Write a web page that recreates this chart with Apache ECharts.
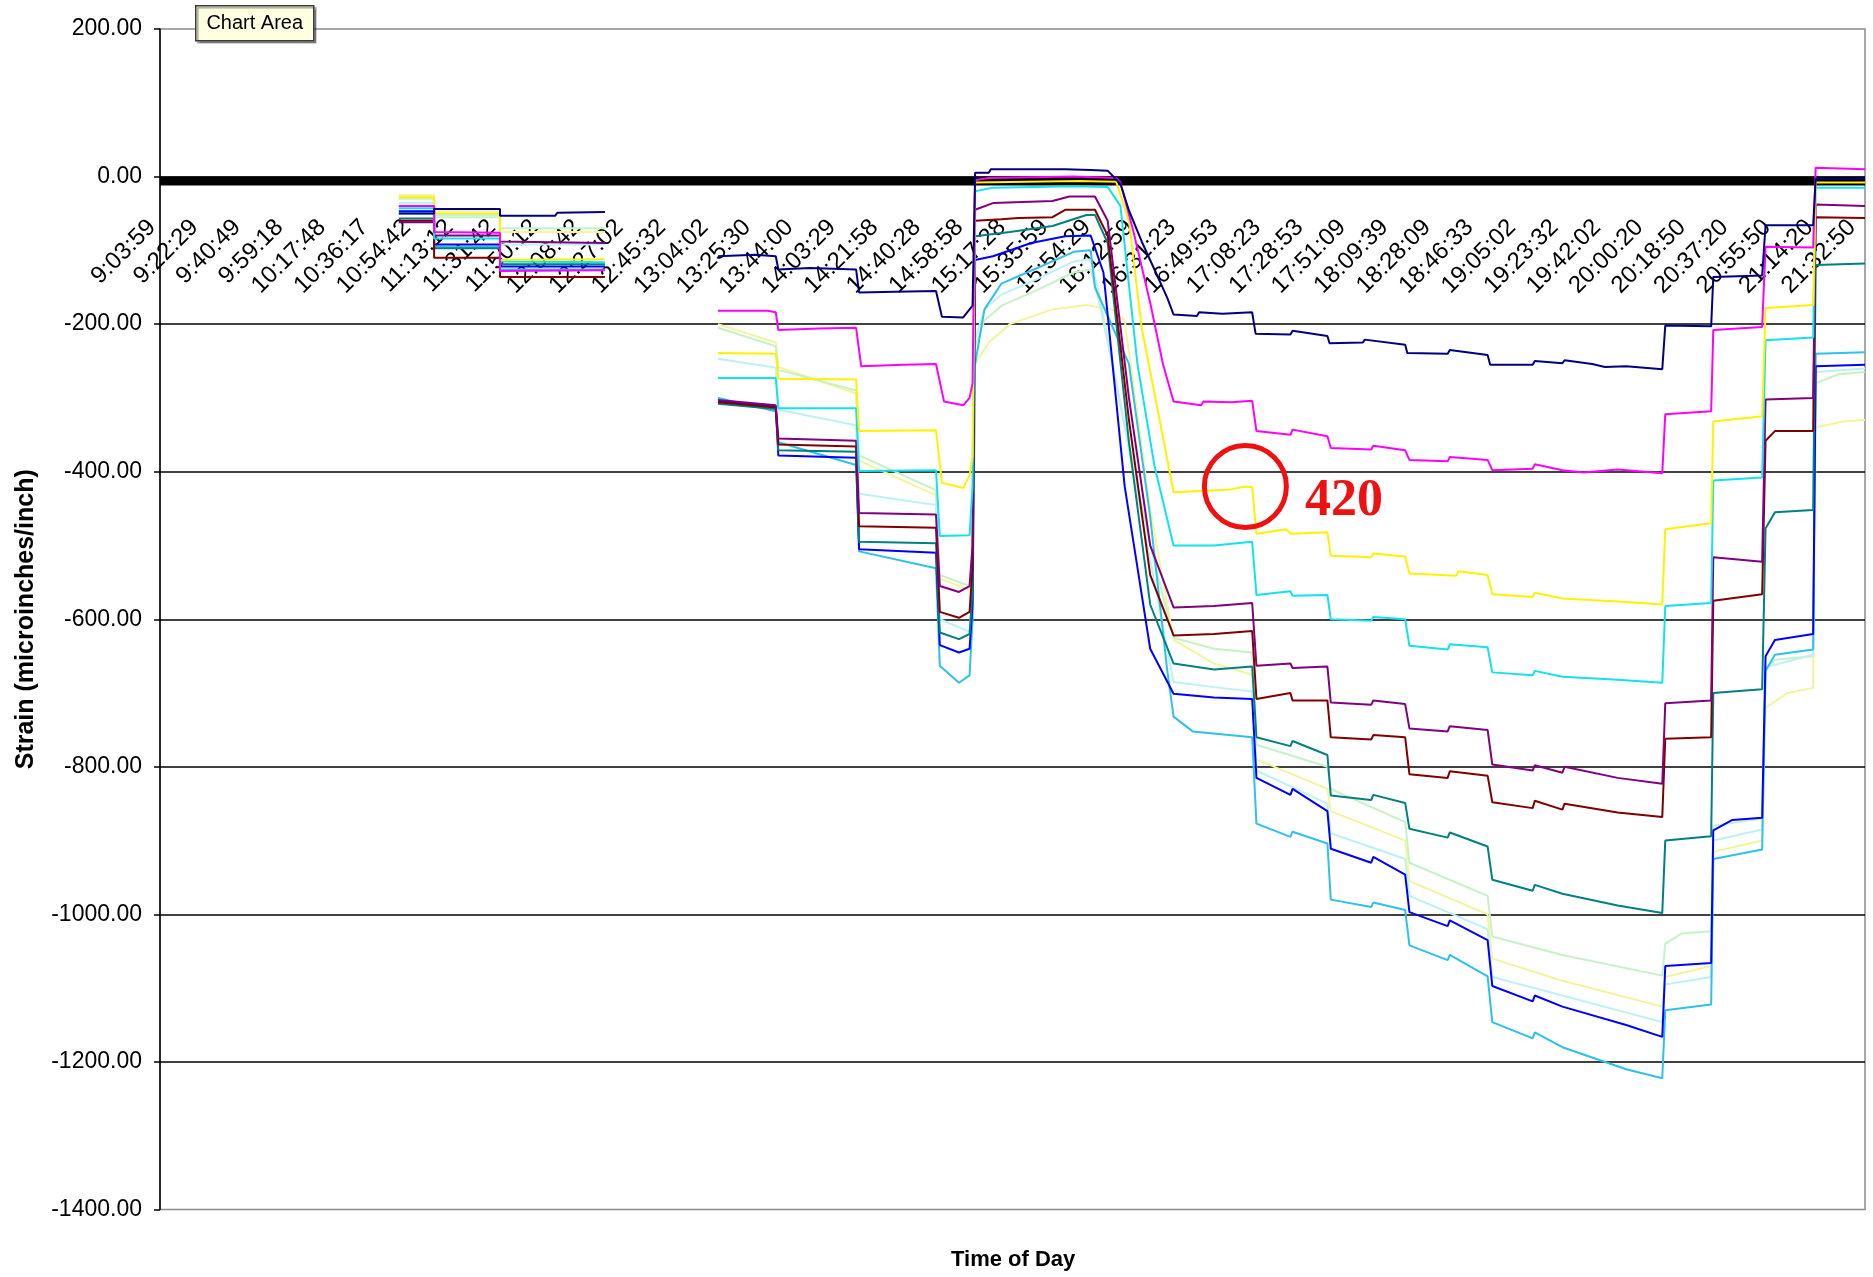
<!DOCTYPE html>
<html>
<head>
<meta charset="utf-8">
<title>Strain vs Time of Day</title>
<script src="https://cdn.jsdelivr.net/npm/echarts@6/dist/echarts.min.js"></script>
<style>
  html, body { margin: 0; padding: 0; background: #ffffff; }
  #chart { width: 1873px; height: 1277px; }
</style>
</head>
<body>
<div id="chart"></div>
<script>
// Category labels along the time axis (one label every logging block)
const timeLabels = [
  '9:03:59', '9:22:29', '9:40:49', '9:59:18', '10:17:48', '10:36:17', '10:54:42',
  '11:13:12', '11:31:42', '11:50:12', '12:08:42', '12:27:02', '12:45:32', '13:04:02',
  '13:25:30', '13:44:00', '14:03:29', '14:21:58', '14:40:28', '14:58:58', '15:17:28',
  '15:35:59', '15:54:29', '16:12:59', '16:31:23', '16:49:53', '17:08:23', '17:28:53',
  '17:51:09', '18:09:39', '18:28:09', '18:46:33', '19:05:02', '19:23:32', '19:42:02',
  '20:00:20', '20:18:50', '20:37:20', '20:55:50', '21:14:20', '21:32:50'
];
const xEnd = 40.12;
const yTicks = { min: -1400, max: 200, step: 200 };

// Strain readings, [position on time axis (label blocks), microstrain]
const gaugeZero = [[0, -6], [40.12, -6]];

const gaugeNavy = [
  [5.62, -50], [6.45, -50], [6.45, -44], [8.0, -44], [8.0, -53], [9.3, -53], [9.35, -49], [10.47, -48], [10.47, null],
  [13.13, -108], [14.0, -106], [14.49, -108], [14.55, -126], [15.3, -124], [16.38, -126], [16.45, -157], [17.3, -156], [18.26, -155],
  [18.4, -190], [18.9, -191], [19.05, -180], [19.12, -175],
  [19.18, 5], [19.5, 5], [19.55, 10], [21.3, 10], [21.9, 9], [22.3, 8],
  [22.6, -10], [22.8, -46], [23.1, -88], [23.4, -126], [23.7, -164], [23.85, -187],
  [24.4, -189], [24.45, -184], [25.0, -186], [25.7, -184], [25.78, -213], [26.6, -214], [26.65, -209], [27.47, -216],
  [27.52, -226], [28.3, -225], [28.35, -221], [29.3, -228],
  [29.35, -239], [30.3, -240], [30.35, -235], [31.24, -242], [31.3, -255], [32.3, -255], [32.35, -250], [33.0, -253], [33.05, -249],
  [33.7, -254], [34.0, -258], [34.5, -257], [35.35, -261],
  [35.42, -202], [36.5, -203], [36.55, -136], [37.7, -134], [37.78, -66], [38.9, -66], [38.96, -3], [40.12, -3]
];

const gaugeMagenta = [
  [5.62, -40], [6.45, -40], [6.45, -75], [8.0, -76], [8.0, -128], [10.47, -127], [10.47, null],
  [13.13, -182], [14.3, -182], [14.49, -184], [14.55, -208], [15.5, -206], [16.38, -205], [16.5, -257], [17.5, -255], [18.26, -254],
  [18.45, -305], [18.9, -310], [19.05, -300], [19.12, -280],
  [19.18, -5], [19.5, -2], [21.5, 0], [22.5, -2],
  [22.6, -8], [22.9, -73], [23.3, -171], [23.6, -254], [23.85, -305],
  [24.5, -310], [24.55, -305], [25.2, -306], [25.7, -304], [25.8, -345], [26.6, -350], [26.65, -343], [27.47, -352],
  [27.55, -368], [28.5, -370], [28.55, -365], [29.3, -371], [29.4, -384], [30.3, -386], [30.35, -380], [31.24, -384],
  [31.35, -398], [32.3, -396], [32.35, -390], [33.0, -398], [33.5, -401], [34.3, -397], [35.35, -402],
  [35.42, -322], [36.5, -318], [36.55, -208], [37.7, -204], [37.78, -95], [38.9, -96], [38.96, 12], [40.12, 10]
];

// Reading called out on the chart
const noteYellow = [25.54, -420];

const gaugeYellow = [
  [5.62, -28], [6.45, -28], [6.45, -50], [8.0, -50], [8.0, -113], [10.47, -112], [10.47, null],
  [13.13, -239], [14.49, -240], [14.55, -274], [16.38, -275], [16.45, -345], [18.26, -344],
  [18.4, -415], [18.9, -422], [19.05, -405], [19.12, -380],
  [19.18, -8], [21.6, -6], [22.5, -7],
  [22.8, -60], [23.1, -205], [23.5, -323], [23.85, -428],
  [24.6, -426], [25.2, -424], noteYellow, [25.7, -421], [25.8, -484], [26.5, -478], [26.6, -484], [27.47, -482],
  [27.55, -514], [28.5, -516], [28.55, -511], [29.3, -515], [29.4, -538], [30.5, -541], [30.55, -535], [31.24, -540],
  [31.35, -566], [32.3, -570], [32.35, -564], [33.0, -572], [34.3, -576], [35.35, -580],
  [35.42, -478], [36.5, -470], [36.55, -332], [37.7, -325], [37.78, -178], [38.9, -174], [38.96, -8], [40.12, -8]
];

const gaugeCyan = [
  [5.62, -43], [6.45, -43], [6.45, -84], [8.0, -84], [8.0, -115], [10.47, -116], [10.47, null],
  [13.13, -273], [14.49, -273], [14.55, -314], [16.38, -314], [16.45, -399], [18.26, -398],
  [18.35, -487], [19.05, -486], [19.12, -420],
  [19.18, -20], [19.6, -15], [21.5, -13], [22.3, -14],
  [22.6, -40], [23.0, -254], [23.4, -392], [23.85, -500],
  [24.8, -500], [25.7, -495], [25.8, -567], [26.6, -562], [26.65, -568], [27.47, -567],
  [27.55, -600], [28.5, -602], [28.55, -597], [29.3, -600], [29.4, -636], [30.3, -641], [30.35, -634], [31.24, -638],
  [31.35, -672], [32.3, -676], [32.35, -670], [33.0, -678], [34.3, -682], [35.35, -686],
  [35.42, -582], [36.5, -578], [36.55, -412], [37.7, -408], [37.78, -222], [38.9, -218], [38.96, -15], [40.12, -15]
];

const gaugePurple = [
  [5.62, -62], [6.45, -62], [6.45, -80], [8.0, -80], [8.0, -88], [10.47, -90], [10.47, null],
  [13.13, -303], [14.49, -310], [14.55, -355], [16.38, -358], [16.45, -456], [18.26, -458],
  [18.35, -555], [18.8, -563], [19.05, -555], [19.12, -500],
  [19.18, -45], [19.6, -36], [21.0, -33], [21.4, -27], [22.0, -27],
  [22.3, -60], [22.8, -300], [23.3, -500], [23.85, -584],
  [24.8, -582], [25.7, -578], [25.8, -663], [26.6, -660], [26.65, -666], [27.47, -664],
  [27.55, -713], [28.5, -716], [28.55, -710], [29.3, -715], [29.4, -748], [30.3, -752], [30.35, -745], [31.24, -750],
  [31.35, -797], [32.3, -805], [32.35, -798], [33.0, -808], [33.05, -800], [34.3, -815], [35.35, -823],
  [35.42, -714], [36.5, -710], [36.55, -516], [37.7, -522], [37.78, -302], [38.9, -300], [38.96, -38], [40.12, -40]
];

const gaugeDarkRed = [
  [5.62, -60], [6.45, -60], [6.45, -110], [8.0, -110], [8.0, -136], [10.47, -136], [10.47, null],
  [13.13, -306], [14.49, -313], [14.55, -363], [16.38, -366], [16.45, -474], [18.26, -476],
  [18.35, -590], [18.8, -598], [19.05, -590], [19.12, -530],
  [19.18, -60], [19.8, -58], [20.2, -56], [21.0, -55], [21.3, -45], [22.0, -45],
  [22.3, -80], [22.8, -330], [23.3, -540], [23.85, -622],
  [24.8, -620], [25.7, -616], [25.8, -708], [26.6, -700], [26.65, -710], [27.47, -710],
  [27.55, -760], [28.5, -763], [28.55, -757], [29.3, -760], [29.4, -810], [30.3, -815], [30.35, -806], [31.24, -812],
  [31.35, -848], [32.3, -856], [32.35, -846], [33.0, -858], [33.05, -850], [34.3, -862], [35.35, -868],
  [35.42, -762], [36.5, -760], [36.55, -575], [37.7, -566], [37.78, -358], [38.0, -345], [38.9, -345], [38.96, -55], [40.12, -56]
];

const gaugeTeal = [
  [5.62, -57], [6.45, -57], [6.45, -97], [8.0, -97], [8.0, -119], [10.47, -119], [10.47, null],
  [13.13, -308], [14.49, -315], [14.55, -371], [16.38, -373], [16.45, -495], [18.26, -497],
  [18.35, -618], [18.8, -627], [19.05, -620], [19.12, -560],
  [19.18, -81], [20.0, -75], [21.0, -67], [21.8, -52], [22.0, -52],
  [22.3, -90], [22.8, -360], [23.3, -580], [23.85, -660],
  [24.8, -668], [25.7, -664], [25.8, -760], [26.6, -772], [26.65, -765], [27.47, -784],
  [27.55, -839], [28.5, -845], [28.55, -838], [29.3, -849], [29.4, -884], [30.3, -896], [30.35, -889], [31.24, -908],
  [31.35, -953], [32.3, -968], [32.35, -960], [33.0, -972], [34.3, -988], [35.35, -998],
  [35.42, -900], [36.5, -894], [36.55, -700], [37.7, -695], [37.78, -477], [38.0, -455], [38.9, -452], [38.96, -120], [40.12, -118]
];

const gaugeBlue = [
  [5.62, -47], [6.45, -47], [6.45, -92], [8.0, -92], [8.0, -122], [10.47, -122], [10.47, null],
  [13.13, -304], [14.49, -312], [14.55, -378], [16.38, -381], [16.45, -505], [18.26, -510],
  [18.35, -635], [18.8, -645], [19.05, -640], [19.12, -580],
  [19.18, -113], [19.6, -108], [20.5, -90], [21.3, -81], [21.9, -80],
  [22.2, -130], [22.7, -420], [23.3, -640], [23.85, -701],
  [24.8, -706], [25.7, -708], [25.8, -815], [26.6, -838], [26.65, -830], [27.47, -860],
  [27.55, -911], [28.5, -930], [28.55, -922], [29.3, -946], [29.4, -997], [30.3, -1016], [30.35, -1008], [31.24, -1035],
  [31.35, -1097], [32.3, -1118], [32.35, -1110], [33.0, -1125], [34.5, -1150], [35.35, -1166],
  [35.42, -1070], [36.5, -1066], [36.55, -886], [37.0, -872], [37.7, -869], [37.78, -650], [38.0, -628], [38.9, -620],
  [38.96, -257], [40.12, -255]
];

const gaugeSkyBlue = [
  [5.62, -50], [6.45, -50], [6.45, -95], [8.0, -95], [8.0, -126], [10.47, -126], [10.47, null],
  [13.13, -300], [14.49, -318], [14.55, -360], [16.38, -391], [16.45, -508], [18.26, -531],
  [18.35, -663], [18.8, -686], [19.05, -676], [19.12, -600],
  [19.18, -254], [19.4, -180], [19.8, -145], [20.6, -125], [21.5, -102], [21.9, -100],
  [22.0, -150], [22.8, -254], [23.3, -461], [23.7, -669], [23.85, -732],
  [24.3, -752], [25.7, -760], [25.8, -877], [26.6, -895], [26.65, -888], [27.47, -904],
  [27.55, -980], [28.5, -990], [28.55, -984], [29.3, -994], [29.4, -1042], [30.3, -1062], [30.35, -1055], [31.24, -1084],
  [31.35, -1146], [32.3, -1168], [32.35, -1160], [33.0, -1180], [34.5, -1210], [35.35, -1222],
  [35.42, -1130], [36.5, -1122], [36.55, -925], [37.7, -912], [37.78, -670], [38.0, -648], [38.9, -641],
  [38.96, -240], [40.12, -238]
];

const gaugeLightCyan = [
  [5.62, -36], [6.45, -36], [6.45, -52], [8.0, -52], [8.0, -92], [10.47, -92], [10.47, null],
  [13.13, -247], [14.49, -259], [14.55, -316], [16.38, -337], [16.45, -430], [18.26, -445],
  [18.35, -600], [19.05, -617], [19.12, -560],
  [19.18, -220], [19.4, -180], [19.8, -160], [20.6, -140], [21.5, -115], [21.9, -112],
  [22.1, -160], [23.3, -520], [23.85, -685],
  [24.8, -692], [25.7, -698], [25.8, -805], [27.47, -850], [27.55, -890], [29.3, -925],
  [29.4, -975], [31.24, -1020], [31.35, -1085], [33.0, -1110], [35.35, -1146],
  [35.42, -1095], [36.5, -1085], [36.55, -900], [37.7, -885], [37.78, -665], [38.9, -648],
  [38.96, -265], [40.12, -260]
];

const gaugeLightGreen = [
  [5.62, -30], [6.45, -30], [6.45, -55], [8.0, -55], [8.0, -70], [10.47, -70], [10.47, null],
  [13.13, -205], [14.49, -230], [14.55, -262], [16.38, -290], [16.45, -378], [18.26, -425],
  [18.35, -540], [19.05, -555], [19.12, -500],
  [19.18, -230], [19.4, -195], [19.8, -175], [20.6, -155], [21.5, -130], [21.9, -126],
  [22.1, -170], [23.3, -500], [23.85, -625],
  [24.8, -640], [25.7, -645], [25.8, -770], [27.47, -800], [27.55, -830], [29.3, -875],
  [29.4, -930], [31.24, -975], [31.35, -1030], [33.0, -1055], [35.35, -1083],
  [35.42, -1040], [35.8, -1026], [36.5, -1023], [36.55, -880], [37.7, -870], [37.78, -668], [38.0, -655], [38.9, -650],
  [38.96, -280], [39.5, -268], [40.12, -265]
];

const gaugeLightYellow = [
  [5.62, -25], [6.45, -25], [6.45, -47], [8.0, -47], [8.0, -75], [10.47, -75], [10.47, null],
  [13.13, -200], [14.49, -225], [14.55, -258], [16.38, -294], [16.45, -385], [18.26, -432],
  [18.35, -545], [19.05, -560], [19.12, -520],
  [19.18, -254], [19.5, -225], [20.0, -200], [21.0, -180], [21.8, -174], [22.4, -180], [22.7, -195],
  [23.3, -450], [23.85, -628],
  [24.8, -660], [25.7, -675], [25.8, -790], [27.47, -830], [27.55, -860], [29.3, -900],
  [29.4, -955], [31.24, -1000], [31.35, -1060], [33.0, -1090], [35.35, -1125],
  [35.42, -1085], [36.5, -1070], [36.55, -915], [37.7, -900], [37.78, -720], [38.3, -700], [38.9, -693],
  [38.96, -340], [39.6, -332], [40.12, -330]
];

const gauges = [
  { name: 'G0', color: '#000000', width: 9, data: gaugeZero },
  { name: 'G11', color: '#F4F49C', width: 2, data: gaugeLightYellow },
  { name: 'G10', color: '#C6F2C6', width: 2, data: gaugeLightGreen },
  { name: 'G9', color: '#BDF1F6', width: 2, data: gaugeLightCyan },
  { name: 'G8', color: '#2EC0EE', width: 2, data: gaugeSkyBlue },
  { name: 'G7', color: '#0000FF', width: 2, data: gaugeBlue },
  { name: 'G6', color: '#008080', width: 2, data: gaugeTeal },
  { name: 'G5', color: '#800000', width: 2, data: gaugeDarkRed },
  { name: 'G4', color: '#800080', width: 2, data: gaugePurple },
  { name: 'G3', color: '#12E2EE', width: 2, data: gaugeCyan },
  { name: 'G2', color: '#FFF200', width: 2, data: gaugeYellow },
  { name: 'G1', color: '#FF00FF', width: 2, data: gaugeMagenta },
  { name: 'G0N', color: '#000080', width: 2, data: gaugeNavy }
];

const sansFont = "'Liberation Sans', Arial, sans-serif";

const series = gauges.map(g => {
  const s = {
    name: g.name,
    type: 'line',
    xAxisIndex: 0,
    yAxisIndex: 0,
    data: g.data,
    showSymbol: false,
    symbol: 'none',
    connectNulls: false,
    silent: true,
    lineStyle: { color: g.color, width: g.width },
    itemStyle: { color: g.color },
    emphasis: { disabled: true }
  };
  if (g.data === gaugeYellow) {
    s.markPoint = {
      silent: true,
      symbol: 'circle',
      symbolSize: 82,
      itemStyle: { color: 'rgba(0,0,0,0)', borderColor: '#F01010', borderWidth: 5 },
      label: {
        show: true,
        position: 'right',
        distance: 16,
        offset: [0, 15],
        formatter: p => String(Math.abs(p.value)),
        color: '#EE1111',
        fontFamily: "'Liberation Serif', 'Times New Roman', serif",
        fontWeight: 'bold',
        fontSize: 52
      },
      data: [{ coord: noteYellow, value: noteYellow[1] }]
    };
  }
  return s;
});

// Plot box; the time labels hang from the zero line, so a second (invisible) grid
// covering the positive band carries that axis along its lower edge.
const plot = { left: 160, right: 8, top: 29, bottom: 67.5 };
const plotHeight = 1277 - plot.top - plot.bottom;
const zeroBandHeight = plotHeight * (yTicks.max - 0) / (yTicks.max - yTicks.min);
const labelShift = 8;

const chart = echarts.init(document.getElementById('chart'), null, { renderer: 'canvas' });

chart.setOption({
  animation: false,
  backgroundColor: '#ffffff',
  grid: [
    {
      left: plot.left, right: plot.right, top: plot.top, bottom: plot.bottom,
      containLabel: false,
      outerBoundsMode: 'none',
      show: true, borderColor: '#8c8c8c', borderWidth: 1.5, backgroundColor: '#ffffff'
    },
    {
      left: plot.left - labelShift, right: plot.right + labelShift, top: plot.top, height: zeroBandHeight,
      containLabel: false,
      outerBoundsMode: 'none',
      show: false
    }
  ],
  xAxis: [
    {
      gridIndex: 0,
      type: 'value',
      min: 0,
      max: xEnd,
      interval: 1,
      axisLine: { show: false },
      axisTick: { show: false },
      axisLabel: { show: false },
      splitLine: { show: false }
    },
    {
      gridIndex: 1,
      type: 'value',
      position: 'bottom',
      min: 0,
      max: xEnd,
      interval: 1,
      axisLine: { show: false, onZero: false },
      axisTick: { show: false },
      splitLine: { show: false },
      axisLabel: {
        rotate: 45,
        margin: 47,
        color: '#000000',
        fontFamily: sansFont,
        fontSize: 24,
        showMinLabel: true,
        showMaxLabel: true,
        formatter: v => (Number.isInteger(v) && timeLabels[v] !== undefined) ? timeLabels[v] : ''
      }
    }
  ],
  yAxis: [
    {
      gridIndex: 0,
      type: 'value',
      min: yTicks.min,
      max: yTicks.max,
      interval: yTicks.step,
      name: 'Strain (microinches/inch)',
      nameLocation: 'middle',
      nameGap: 121,
      nameTextStyle: { fontFamily: sansFont, fontWeight: 'bold', fontSize: 25, color: '#000000' },
      axisLine: { show: true, onZero: false, lineStyle: { color: '#000000', width: 1.5 } },
      axisTick: { show: true, length: 6, lineStyle: { color: '#000000', width: 1.5 } },
      axisLabel: {
        margin: 18,
        color: '#000000',
        fontFamily: sansFont,
        fontSize: 23,
        formatter: v => v.toFixed(2)
      },
      splitLine: {
        show: true,
        showMinLine: false,
        showMaxLine: false,
        lineStyle: { color: '#000000', width: 1.6 }
      }
    },
    {
      gridIndex: 1,
      type: 'value',
      min: 0,
      max: yTicks.max,
      show: false
    }
  ],
  graphic: [
    {
      type: 'text',
      left: 1013 - 62,
      top: 1249,
      style: {
        text: 'Time of Day',
        fill: '#000000',
        font: "bold 22px 'Liberation Sans', Arial, sans-serif"
      }
    },
    {
      type: 'group',
      left: 195,
      top: 5,
      children: [
        {
          type: 'rect',
          shape: { x: 0, y: 0, width: 118, height: 35 },
          style: { fill: '#FFFFE1', stroke: '#3a3a3a', lineWidth: 1.5,
                   shadowColor: 'rgba(0,0,0,0.35)', shadowOffsetX: 2, shadowOffsetY: 2, shadowBlur: 1 }
        },
        {
          type: 'text',
          x: 59, y: 18,
          style: {
            text: 'Chart Area',
            fill: '#000000',
            font: "20px 'Liberation Sans', Arial, sans-serif",
            align: 'center',
            verticalAlign: 'middle'
          }
        }
      ]
    }
  ],
  series: series
});
</script>
</body>
</html>
